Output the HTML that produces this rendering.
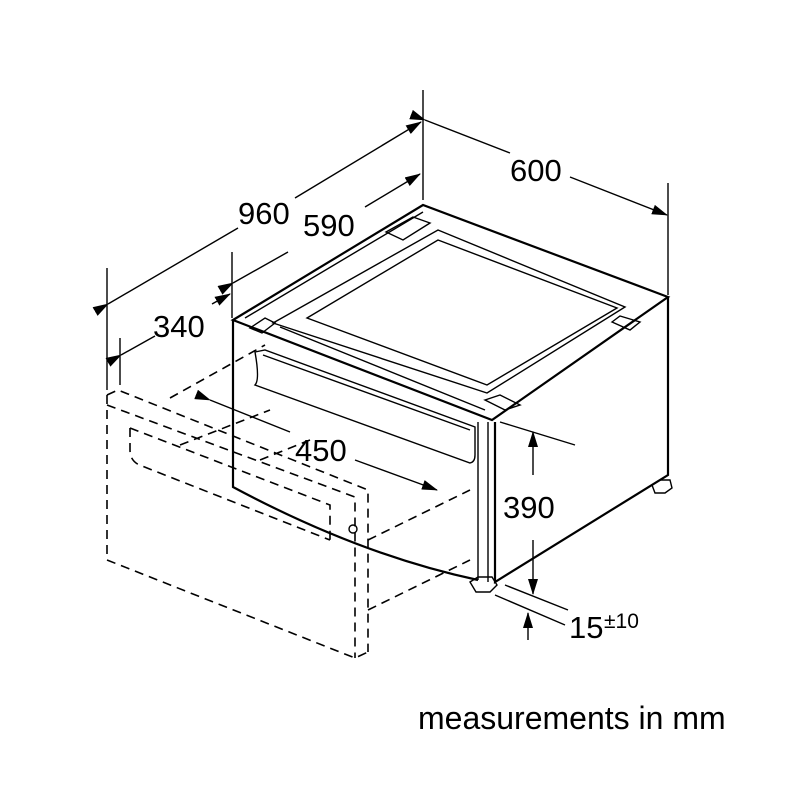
<!DOCTYPE html>
<html><head><style>body{margin:0;background:#fff}svg{display:block}</style></head><body>
<svg width="800" height="800" viewBox="0 0 800 800" xmlns="http://www.w3.org/2000/svg" font-family="Liberation Sans, sans-serif">
<defs><marker id="a" markerWidth="16" markerHeight="10" refX="15" refY="5" orient="auto" markerUnits="userSpaceOnUse"><path d="M0,0L16,5L0,10z" fill="#000"/></marker></defs>
<g fill="none" stroke="#000" stroke-width="1.6" stroke-dasharray="9,6">
<path d="M107,395V560L355,658L368,652"/>
<path d="M107,395L118,390L368,490V652"/>
<path d="M107,405L355,497V658"/>
<path d="M130,428V450Q130,462 142,466L330,540"/>
<path d="M130,428L330,505V540"/>
<path d="M368,540L470,490"/>
<path d="M368,610L470,560"/>
<path d="M170,398L265,345"/>
<path d="M180,445L270,410"/>
<path d="M260,460L310,440"/>
</g>
<g fill="none" stroke="#000" stroke-width="2.2">
<path d="M233,320L423,205L668,297L492,420Z"/>
<path d="M233,320V487Q360,555 478,580"/>
<path d="M495,422V582L668,475V297"/>
</g>
<g fill="none" stroke="#000" stroke-width="1.4">
<path d="M245,318L423,212"/>
<path d="M273,323L438,230L625,307L487,393Z"/>
<path d="M307,318L438,240L617,308L487,385Z"/>
<path d="M280,327L485,410"/>
<path d="M478,422V580M488,422V582"/>
<path d="M386,232L413,217L430,223L403,240Z"/>
<path d="M265,318L275,323L262,333L250,328Z"/>
<path d="M612,322L620,316L640,322L630,330Z"/>
<path d="M485,400L500,395L520,405L505,410Z"/>
<path d="M255,352Q260,380 255,385L470,463Q475,462 475,455V427L265,350Z"/>
<path d="M263,355L470,430"/>
<path d="M470,582L478,577H492L497,585L490,592H476Z"/>
<path d="M652,485L660,480H670L672,488L665,493H655Z"/>
<circle cx="353" cy="529" r="4"/>
</g>
<g stroke="#000" stroke-width="1.4" fill="none">
<path d="M107,268V390M423,90V200M232,252V318M120,338V385M668,183V295"/>
<path d="M108,304L238,228" marker-start="url(#a)"/>
<path d="M295,198L421,122" marker-end="url(#a)"/>
<path d="M233,283L288,252" marker-start="url(#a)"/>
<path d="M365,207L420,174" marker-end="url(#a)"/>
<path d="M121,355L155,336" marker-start="url(#a)"/>
<path d="M212,304L230,294" marker-end="url(#a)"/>
<path d="M425,120L510,153" marker-start="url(#a)"/>
<path d="M570,177L667,215" marker-end="url(#a)"/>
<path d="M210,400L290,432" marker-start="url(#a)"/>
<path d="M355,460L437,490" marker-end="url(#a)"/>
<path d="M500,422L575,445M505,585L568,610M495,595L565,625"/>
<path d="M533,475V432" marker-end="url(#a)"/>
<path d="M533,540V594" marker-end="url(#a)"/>
<path d="M528,640V613" marker-end="url(#a)"/>
</g>
<g font-size="31" fill="#000">
<text x="238" y="224">960</text>
<text x="303" y="236">590</text>
<text x="153" y="337">340</text>
<text x="510" y="181">600</text>
<text x="295" y="461">450</text>
<text x="503" y="518">390</text>
<text x="569" y="638">15</text>
<text x="604" y="628" font-size="21">±10</text>
<text x="418" y="729" font-size="32">measurements in mm</text>
</g>
</svg>
</body></html>
